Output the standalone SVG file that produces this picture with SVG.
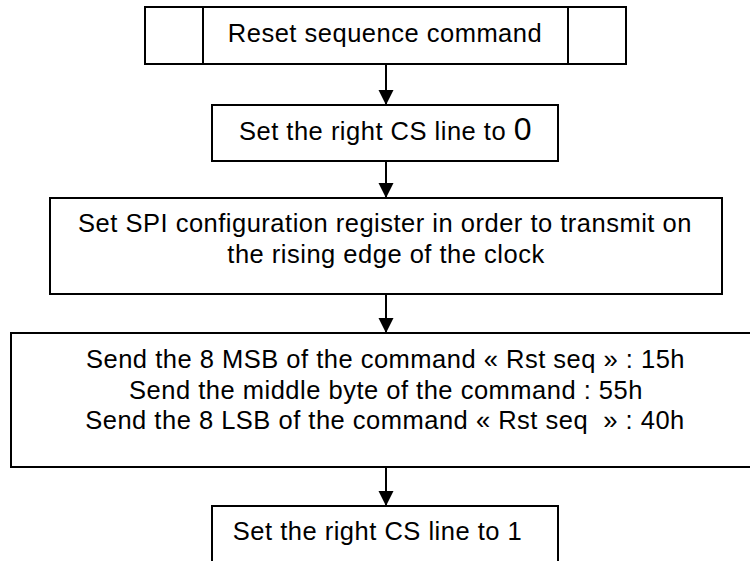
<svg xmlns="http://www.w3.org/2000/svg" width="750" height="561" viewBox="0 0 750 561">
<style>
.box{fill:#fff;stroke:#000;stroke-width:2}
.t{font-family:"Liberation Sans",Arial,sans-serif;font-size:25.5px;letter-spacing:0.5px;fill:#000;text-anchor:middle}
.c{stroke:#000;stroke-width:2;fill:none}
</style>
<defs>
<marker id="ah" markerWidth="16" markerHeight="16" refX="15" refY="7.5" orient="auto" markerUnits="userSpaceOnUse">
<path d="M0,0 L15,7.5 L0,15 Z" fill="#000"/>
</marker>
</defs>
<rect width="750" height="561" fill="#fff"/>
<g id="connectors">
<line class="c" x1="386" y1="64" x2="386" y2="105" marker-end="url(#ah)"/>
<line class="c" x1="386" y1="161" x2="386" y2="198" marker-end="url(#ah)"/>
<line class="c" x1="386" y1="294" x2="386" y2="333" marker-end="url(#ah)"/>
<line class="c" x1="386" y1="467" x2="386" y2="506" marker-end="url(#ah)"/>
</g>
<g id="reset">
<rect class="box" x="145" y="7" width="481" height="57"/>
<line class="c" x1="203" y1="7" x2="203" y2="64"/>
<line class="c" x1="568" y1="7" x2="568" y2="64"/>
<text class="t" x="385" y="42">Reset sequence command</text>
</g>
<g id="cs0">
<rect class="box" x="212" y="105" width="346" height="56"/>
<text class="t" x="385.5" y="140">Set the right CS line to <tspan font-size="32">0</tspan></text>
</g>
<g id="spi">
<rect class="box" x="50" y="198" width="672" height="96"/>
<text class="t" x="385" y="232">Set SPI configuration register in order to transmit on</text>
<text class="t" x="386" y="263">the rising edge of the clock</text>
</g>
<g id="send">
<rect class="box" x="11" y="333" width="760" height="134"/>
<text class="t" x="385.5" y="368">Send the 8 MSB of the command « Rst seq » : 15h</text>
<text class="t" x="386" y="399">Send the middle byte of the command : 55h</text>
<text class="t" x="385" y="429" xml:space="preserve">Send the 8 LSB of the command « Rst seq  » : 40h</text>
</g>
<g id="cs1">
<rect class="box" x="212" y="506" width="346" height="80"/>
<text class="t" x="377.5" y="540">Set the right CS line to 1</text>
</g>
</svg>
